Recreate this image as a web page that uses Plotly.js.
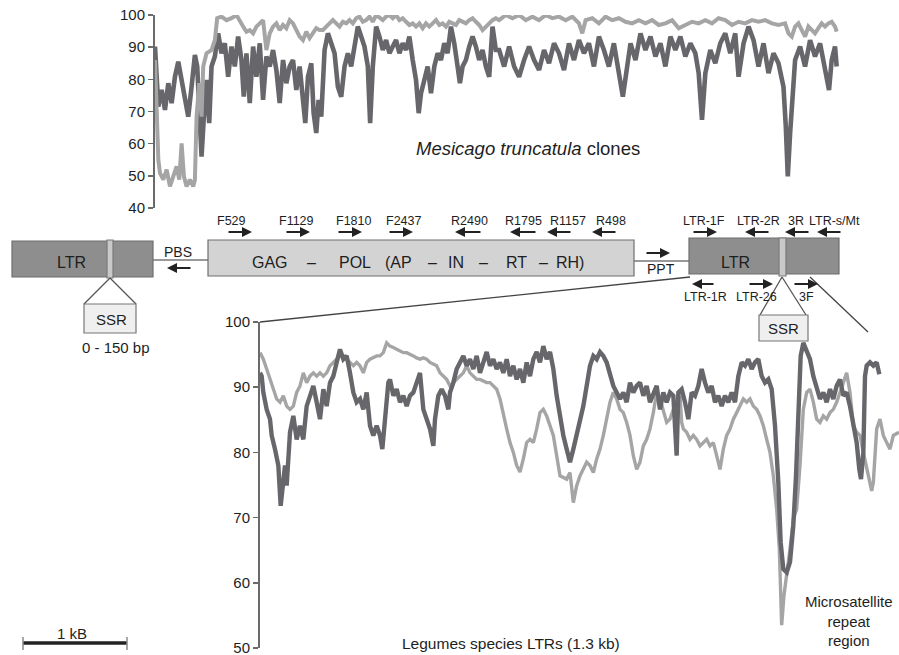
<!DOCTYPE html>
<html><head><meta charset="utf-8">
<script src="https://cdn.plot.ly/plotly-3.0.1.min.js"></script>
<style>html,body{margin:0;padding:0;background:#fff}#chart{width:899px;height:655px}</style>
</head><body><div id="chart"></div>
<script>
// ---- Top panel: Medicago truncatula clones (identity %) ----
const topDarkX = [0,5,10,20,30,40,50,60,70,80,90,100,110,120,127,135,140,147,155,163,170,180,190,200,210,220,230,240,250,260,267,275,285,295,305,315,325,335,345,355,365,375,385,395,405,415,425,435,445,452,460,470,477,485,492,500,510,520,530,540,550,560,570,580,590,600,610,620,630,640,647,655,665,675,685,695,705,715,725,735,745,755,765,775,785,793,800,810,820,830,840,850,860,870,880,890,900,910,917,925,935,945,955,965,975,985,995,1005,1015,1025,1035,1050,1065,1080,1095,1110,1125,1140,1155,1170,1185,1200,1215,1230,1245,1260,1275,1290,1305,1320,1335,1350,1365,1380,1395,1407,1420,1430,1445,1460,1475,1490,1505,1520,1535,1550,1565,1580,1595,1610,1625,1635,1645,1655,1670,1685,1700,1715,1730,1745,1755,1770,1785,1800,1815,1830,1845,1860,1875,1890,1897,1903,1910,1917,1925,1940,1955,1970,1985,2000,2015,2027,2035,2045,2050];
const topDarkY = [90.2,80.8,71.5,76.7,70.5,78.8,72.6,80.8,85.5,79.8,73.6,68.4,77.7,87.6,84.0,65.3,56.0,68.4,79.8,66.4,84.0,87.1,94.3,88.1,91.2,80.8,90.2,84.0,93.3,86.0,74.6,88.1,72.6,90.2,80.8,91.2,73.6,87.1,84.0,89.1,82.9,72.6,86.0,78.8,84.0,86.0,76.7,84.0,73.6,66.4,80.8,85.0,69.5,63.3,73.6,68.4,89.1,94.3,91.2,88.1,77.7,74.6,84.0,88.1,84.0,91.2,96.4,93.3,90.2,84.0,66.4,84.0,96.4,93.3,89.1,92.2,88.1,90.2,92.2,88.1,91.2,89.1,93.3,86.0,79.8,69.5,75.7,79.8,84.0,75.7,84.0,88.1,86.0,91.2,88.1,96.4,91.2,84.0,78.8,84.0,86.0,90.2,93.3,90.2,86.0,89.1,84.0,80.8,96.4,89.1,89.1,84.0,90.2,84.0,80.8,86.0,90.2,86.0,82.9,89.1,85.0,91.2,88.1,82.9,91.2,86.0,92.2,88.1,91.2,84.0,93.3,89.1,84.0,91.2,81.9,74.6,84.0,91.2,86.0,94.3,89.1,93.3,87.1,91.2,84.0,93.3,89.1,93.3,87.1,91.2,88.1,81.9,67.4,81.9,89.1,85.0,91.2,94.3,88.1,94.3,80.8,91.2,96.4,92.2,84.0,91.2,81.9,88.1,85.0,77.7,65.3,49.8,63.3,75.7,86.0,90.2,84.0,92.2,87.1,91.2,84.0,76.7,86.0,90.2,84.0];
const topLightX = [0,5,10,15,25,35,45,55,65,73,80,87,95,105,115,120,125,133,140,145,155,170,180,187,200,215,230,245,255,265,275,285,295,305,315,325,335,345,355,365,375,385,395,405,415,425,435,445,455,465,475,485,495,505,515,525,535,545,555,565,575,585,595,605,615,625,635,645,655,665,675,685,695,705,715,725,735,745,755,765,775,785,795,805,815,825,835,845,855,865,875,885,895,905,915,925,935,945,955,965,975,985,995,1005,1015,1025,1035,1055,1075,1095,1115,1135,1155,1175,1195,1215,1235,1255,1275,1285,1295,1315,1335,1355,1375,1395,1415,1435,1455,1475,1495,1515,1535,1555,1575,1595,1615,1635,1655,1675,1695,1715,1735,1755,1775,1795,1815,1835,1855,1875,1895,1905,1915,1925,1935,1945,1955,1965,1975,1985,1995,2005,2015,2025,2035,2045,2050];
const topLightY = [86.0,73.6,55.0,50.8,48.8,51.9,46.7,49.8,52.9,48.8,60.1,49.8,46.7,48.8,46.7,48.8,68.4,78.8,68.4,84.0,88.1,89.1,92.2,99.0,99.5,98.4,99.0,100,97.9,96.4,94.8,95.3,94.3,96.4,97.4,98.4,89.1,94.3,96.4,97.4,95.3,96.9,95.9,98.4,97.4,95.3,93.3,92.2,94.8,92.8,94.3,95.9,95.3,95.3,96.4,97.4,98.4,97.4,96.4,97.9,97.4,98.4,97.4,99.0,99.5,97.9,98.4,99.5,97.9,100,99.0,98.4,99.5,100,99.0,100,98.4,99.0,97.9,96.9,97.4,96.4,97.4,95.9,97.4,96.4,97.4,98.4,96.9,97.4,96.4,97.9,97.4,96.9,98.4,97.9,97.4,98.4,99.0,97.9,96.9,95.3,96.4,97.4,98.4,99.0,98.4,100,99.0,100,98.4,99.5,98.4,100,99.0,99.5,98.4,99.5,97.4,94.3,98.4,99.0,97.4,99.5,98.4,99.0,97.9,97.4,98.4,97.4,98.4,96.9,97.4,98.4,95.9,96.9,97.9,97.4,98.4,97.4,99.0,98.4,96.9,97.9,97.4,98.4,97.9,98.4,97.4,96.9,97.4,94.3,93.3,96.4,97.4,95.3,93.3,96.4,95.3,94.3,95.9,97.4,96.4,97.4,97.9,96.4,94.8];
const topTicks = [40,50,60,70,80,90,100];

// ---- Bottom panel: Legumes species LTRs (identity %) ----
const botDarkX = [0,5,10,20,30,35,45,55,62,68,75,80,90,100,110,120,130,140,150,160,170,180,190,200,210,220,230,240,250,260,270,280,290,300,310,320,330,340,350,360,367,375,385,390,400,410,420,430,440,450,460,470,480,490,500,510,520,525,535,545,555,565,570,580,590,600,610,620,630,640,650,660,670,680,690,700,710,720,730,740,750,760,770,780,790,800,810,820,830,840,850,860,870,880,890,900,910,920,930,940,950,960,970,980,990,1000,1010,1020,1030,1040,1050,1060,1070,1080,1090,1100,1110,1120,1130,1140,1150,1160,1170,1180,1190,1200,1210,1220,1230,1240,1245,1250,1255,1265,1275,1285,1295,1305,1315,1325,1335,1345,1355,1365,1375,1385,1395,1405,1415,1425,1435,1445,1455,1465,1475,1485,1495,1505,1515,1525,1535,1545,1555,1562,1570,1580,1590,1600,1608,1615,1622,1630,1640,1650,1660,1670,1680,1690,1700,1710,1720,1730,1740,1750,1760,1770,1780,1790,1798,1803,1810,1815,1820,1830,1840,1850,1858];
const botDarkY = [92.2,91.7,89.2,86.6,85.1,82.6,80.5,78.0,71.8,75.4,78.0,74.9,83.1,85.6,82.0,84.1,82.0,87.1,88.7,90.2,87.7,85.1,89.7,87.1,90.7,91.7,93.8,95.8,94.3,94.8,92.2,89.2,87.7,88.2,86.6,89.2,84.1,82.6,84.1,82.6,80.5,85.1,90.7,91.2,88.7,89.7,87.7,88.7,87.1,88.7,89.2,90.7,92.2,86.6,85.1,83.6,81.0,85.1,88.7,89.7,88.7,86.6,89.2,90.7,92.8,93.8,94.8,93.3,94.3,92.8,94.8,92.2,93.8,95.4,93.3,94.3,92.8,93.8,92.2,94.3,91.7,93.3,91.2,92.8,90.7,93.8,91.7,94.3,95.4,93.8,96.3,94.3,95.4,92.8,88.7,85.1,82.6,80.5,78.5,80.5,82.6,85.1,87.1,90.2,93.3,94.8,94.3,95.4,94.8,93.8,92.2,90.2,89.2,88.2,89.2,87.7,90.7,89.2,90.2,90.7,88.7,90.2,87.7,89.2,90.2,86.6,89.2,87.7,89.2,88.7,85.1,79.5,89.2,89.7,87.7,85.1,89.2,88.7,90.2,92.8,90.7,89.2,90.2,87.7,88.7,87.1,88.7,87.7,89.2,87.7,91.7,93.8,93.3,94.3,92.8,93.8,94.3,91.7,90.7,91.2,89.7,84.1,75.4,66.2,62.1,61.6,63.2,68.8,76.4,86.6,94.8,96.8,95.4,94.3,91.7,90.2,88.2,89.2,87.7,89.7,88.2,90.2,91.2,88.7,89.2,87.1,84.6,81.5,77.4,75.9,80.0,91.7,93.3,93.8,93.3,93.8,92.0];
const botLightX = [0,10,20,30,40,50,60,70,80,90,100,110,120,130,140,150,160,170,180,190,200,210,220,230,240,250,260,270,280,290,300,310,320,330,340,350,360,370,380,390,400,410,420,430,440,450,460,470,480,490,500,510,520,530,540,550,560,570,580,590,600,610,620,630,640,650,660,670,680,690,700,710,720,730,740,750,760,770,780,790,800,810,820,830,840,850,860,880,900,920,930,940,950,960,980,990,1000,1010,1020,1030,1040,1050,1060,1070,1080,1090,1100,1110,1120,1130,1140,1150,1160,1170,1180,1190,1200,1210,1220,1230,1240,1250,1260,1265,1270,1280,1290,1300,1310,1320,1330,1340,1350,1360,1370,1380,1390,1400,1410,1420,1430,1440,1450,1460,1470,1480,1490,1500,1510,1520,1530,1540,1550,1558,1565,1572,1580,1590,1600,1610,1620,1630,1640,1650,1660,1670,1680,1690,1700,1710,1720,1730,1740,1750,1760,1770,1780,1790,1800,1810,1820,1830,1835,1840,1850,1860,1870,1880,1890,1900,1917];
const botLightY = [95.3,94.3,92.8,91.2,89.7,88.2,87.7,88.7,87.1,86.6,87.1,89.2,90.2,92.2,90.7,91.7,92.2,91.7,92.2,91.7,92.2,93.3,93.8,94.3,95.3,94.8,94.3,93.8,93.3,93.8,93.3,92.2,93.8,94.3,94.5,94.8,94.8,95.3,96.8,96.3,96.1,95.8,95.6,95.3,95.3,95.1,94.8,94.5,94.3,94.5,94.3,93.8,93.5,93.3,92.2,91.7,91.2,90.2,90.7,91.2,91.7,92.2,93.3,92.2,91.7,91.2,91.2,91.0,90.7,90.7,90.2,89.7,88.2,85.6,83.6,81.5,80.0,78.0,77.0,79.0,81.5,82.0,81.5,83.6,86.1,86.6,85.6,82.6,76.4,75.9,76.9,72.3,74.9,76.4,78.5,78.0,76.9,79.0,80.5,82.6,85.1,87.7,89.2,88.2,86.6,86.1,84.6,82.6,79.5,77.4,78.5,81.0,82.0,83.6,86.1,89.2,88.2,86.6,84.6,85.1,86.6,86.6,88.7,84.6,83.6,83.1,82.0,82.6,82.0,81.0,81.5,82.0,81.0,81.5,79.5,77.4,80.5,82.6,83.6,85.1,86.1,87.1,88.2,87.7,88.2,87.1,86.6,85.6,84.1,82.0,80.0,76.4,71.3,65.2,53.5,58.1,61.1,65.2,69.8,71.3,78.0,86.6,89.2,89.7,87.7,85.1,84.6,85.6,85.1,86.1,86.6,87.7,89.2,90.7,92.2,89.2,84.1,83.1,82.6,80.0,77.4,75.4,74.1,75.4,83.6,85.1,82.6,81.5,80.5,82.6,83.1];
const botTicks = [50,60,70,80,90,100];

// primer labels and gene-region tokens
const primersTop = ['F529','F1129','F1810','F2437','R2490','R1795','R1157','R498','LTR-1F','LTR-2R','3R','LTR-s/Mt'];
const primersBottom = ['LTR-1R','LTR-26','3F'];
const geneTokens = ['GAG','–','POL','(AP','–','IN','–','RT','–','RH)'];

const W=899, H=655;
const X = p => p/W, Y = p => 1 - p/H;
const FONT = '"Liberation Sans", Arial, Helvetica, sans-serif';
const DARK = '#67676b', LIGHT = '#a5a5a5', INK = '#1e1e1e';

const traces = [
  {x:topDarkX, y:topDarkY, xaxis:'x', yaxis:'y', mode:'lines', line:{color:DARK,width:4.6}, hoverinfo:'skip'},
  {x:topLightX, y:topLightY, xaxis:'x', yaxis:'y', mode:'lines', line:{color:LIGHT,width:4}, hoverinfo:'skip'},
  {x:botLightX, y:botLightY, xaxis:'x2', yaxis:'y2', mode:'lines', line:{color:LIGHT,width:3.4}, hoverinfo:'skip'},
  {x:botDarkX, y:botDarkY, xaxis:'x2', yaxis:'y2', mode:'lines', line:{color:DARK,width:4.4}, hoverinfo:'skip'}
];

const yaxCommon = {showline:true, linecolor:'#6a6a6a', linewidth:2, ticks:'outside', ticklen:5, tickwidth:1.5, tickcolor:'#6a6a6a', showgrid:false, zeroline:false, tickfont:{size:15,color:INK,family:FONT}, ticklabeloverflow:'allow', fixedrange:true};

function rect(x0,y0,x1,y1,fill,lc){return {type:'rect',xref:'paper',yref:'paper',x0:X(x0),x1:X(x1),y0:Y(y0),y1:Y(y1),fillcolor:fill,line:{color:lc||'#6e6e6e',width:1.2}};}
function seg(x0,y0,x1,y1,c,w){return {type:'line',xref:'paper',yref:'paper',x0:X(x0),x1:X(x1),y0:Y(y0),y1:Y(y1),line:{color:c||'#555',width:w||1.5}};}
function txt(s,x,y,size,extra){return Object.assign({xref:'paper',yref:'paper',x:X(x),y:Y(y),text:s,showarrow:false,xanchor:'center',yanchor:'middle',font:{size:size,color:INK,family:FONT}},extra||{});}
function arr(tail,head,y){return {xref:'paper',yref:'paper',x:X(head),y:Y(y),ax:tail-head,ay:0,axref:'pixel',ayref:'pixel',text:'',showarrow:true,arrowhead:2,arrowsize:1,arrowwidth:2,arrowcolor:'#222'};}

const shapes = [
  rect(12,241,153,277,'#8e8e8e'),
  rect(107,240,113,278,'#c9c9c9','#7a7a7a'),
  seg(153,260,208,260,'#777',1.5),
  rect(208,240,634,276,'#d3d3d3'),
  seg(634,261,689,261,'#777',1.5),
  rect(689,238,839,274,'#8e8e8e'),
  rect(779,238,786,276,'#c9c9c9','#7a7a7a'),
  seg(110,278,84,304,'#555',1.3), seg(110,278,136,304,'#555',1.3),
  rect(84,304,136,333,'#efefef','#777'),
  seg(782,277,760,315,'#555',1.3), seg(782,277,806,315,'#555',1.3),
  rect(759,315,808,341,'#efefef','#777'),
  seg(810,277,868,332,'#444',1.3),
  seg(690,277,260,322,'#444',1.3),
  seg(23,643,127,643,'#222',3.5),
  seg(23,637,23,650,'#888',1.5), seg(127,637,127,650,'#888',1.5)
];

const topLabelX = [231,296,353,403,469,523,568,611,704,758,796,834];
const topArrows = [[227,252],[285,310],[337,362],[388,413],[482,455],[537,510],[572,547],[617,592],[692,717],[770,745],[810,785],[842,817]];
const botLabelX = [705,756,806];
const botArrows = [[715,692],[748,773],[793,818]];
const tokenX = [270,311,355,398,432,456,484,516,543,570];

const annotations = [];
primersTop.forEach((s,i)=>{annotations.push(txt(s,topLabelX[i],221,12.5)); annotations.push(arr(topArrows[i][0],topArrows[i][1],232));});
primersBottom.forEach((s,i)=>{annotations.push(txt(s,botLabelX[i],297,12.5)); annotations.push(arr(botArrows[i][0],botArrows[i][1],284));});
geneTokens.forEach((s,i)=>annotations.push(txt(s,tokenX[i],262,16)));
annotations.push(txt('LTR',71,262,16));
annotations.push(txt('LTR',735,262,16));
annotations.push(txt('PBS',178,252,14)); annotations.push(arr(192,167,268));
annotations.push(txt('PPT',661,269,14)); annotations.push(arr(645,670,253));
annotations.push(txt('SSR',111,319,15));
annotations.push(txt('SSR',783,328,15));
annotations.push(txt('0 - 150 bp',116,347,15));
annotations.push(txt('<i>Mesicago truncatula</i> clones',528,148,18.5));
annotations.push(txt('Legumes species LTRs (1.3 kb)',511,643,15.5));
annotations.push(txt('Microsatellite<br>repeat<br>region',849,621,15));
annotations.push(txt('1 kB',72,633,15));

const layout = {
  width:W, height:H, margin:{l:0,r:0,t:0,b:0}, showlegend:false,
  paper_bgcolor:'#fff', plot_bgcolor:'rgba(0,0,0,0)',
  xaxis:{domain:[X(155),X(840)], range:[0,2060], visible:false, fixedrange:true},
  yaxis:Object.assign({domain:[Y(208),Y(15)], range:[40,100], tickvals:topTicks, anchor:'x'}, yaxCommon),
  xaxis2:{domain:[X(260),1], range:[0,1917], visible:false, fixedrange:true, anchor:'y2'},
  yaxis2:Object.assign({domain:[Y(648),Y(322)], range:[50,100], tickvals:botTicks, anchor:'x2'}, yaxCommon),
  shapes:shapes, annotations:annotations
};

Plotly.newPlot('chart', traces, layout, {displayModeBar:false, staticPlot:true});
</script></body></html>
